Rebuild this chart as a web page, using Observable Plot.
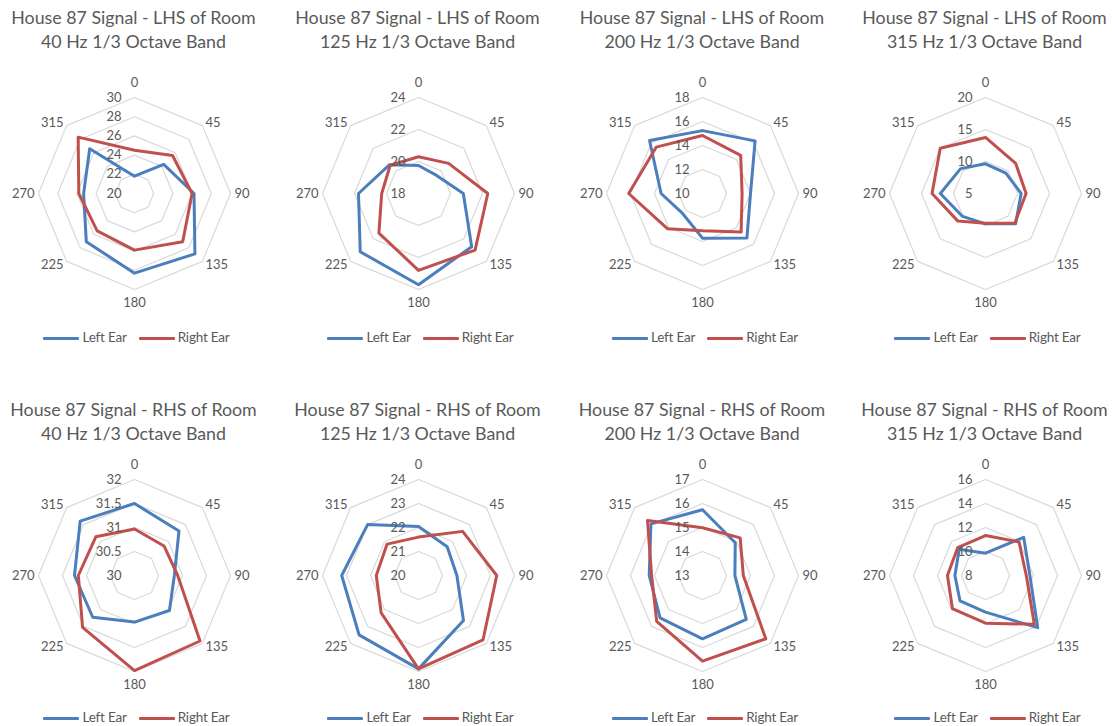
<!DOCTYPE html>
<html>
<head>
<meta charset="utf-8">
<script src="https://cdn.jsdelivr.net/npm/d3@7"></script>
<script src="https://cdn.jsdelivr.net/npm/@observablehq/plot@0.6"></script>
<style>
  html, body { margin: 0; padding: 0; background: #fff; }
  #root { position: relative; width: 1112px; height: 726px; overflow: hidden; font-family: Lato, "Open Sans", sans-serif; color: #595959; }
  .title { position: absolute; width: 300px; text-align: center; font-size: 17.8px; line-height: 24px; white-space: nowrap; }
  .plot { position: absolute; }
  .legend { position: absolute; width: 300px; text-align: center; font-size: 13.5px; line-height: 14px; white-space: nowrap; letter-spacing: -0.2px; }
  .legend .sw { display: inline-block; width: 36px; height: 3px; vertical-align: middle; margin-right: 3px; border-radius: 1px; }
  .legend .item { display: inline-block; margin: 0 6px; }
</style>
</head>
<body>
<div id="root"></div>
<script>
// Angles (degrees) around each radar
const angles = [0, 45, 90, 135, 180, 225, 270, 315];

// Titles
const sides = ["LHS", "RHS"];
const bands = ["40 Hz", "125 Hz", "200 Hz", "315 Hz"];

// Radial tick labels per panel
const lhs40Ticks = [20, 22, 24, 26, 28, 30];
const lhs125Ticks = [18, 20, 22, 24];
const lhs200Ticks = [10, 12, 14, 16, 18];
const lhs315Ticks = [5, 10, 15, 20];
const rhs40Ticks = [30, 30.5, 31, 31.5, 32];
const rhs125Ticks = [20, 21, 22, 23, 24];
const rhs200Ticks = [13, 14, 15, 16, 17];
const rhs315Ticks = [8, 10, 12, 14, 16];

// Series values (in the order of `angles`)
const lhs40Left = [21.8, 24.3, 26.2, 28.9, 28.3, 27.1, 25.3, 26.6];
const lhs40Right = [24.5, 25.6, 26.0, 27.1, 25.9, 25.5, 25.8, 28.3];
const lhs125Left = [19.75, 19.6, 20.8, 22.7, 23.7, 23.15, 21.75, 20.55];
const lhs125Right = [20.3, 20.66, 22.33, 23.0, 22.8, 21.5, 20.3, 20.5];
const lhs200Left = [15.24, 16.2, 14.0, 15.24, 13.72, 12.35, 13.45, 16.24];
const lhs200Right = [14.83, 14.5, 13.3, 14.55, 13.1, 14.14, 16.15, 15.46];
const lhs315Left = [9.64, 9.5, 10.57, 11.66, 9.74, 10.07, 12.06, 10.5];
const lhs315Right = [13.76, 11.66, 11.34, 11.5, 9.64, 11.1, 13.35, 15.0];
const rhs40Left = [31.5, 31.31, 30.83, 31.03, 30.97, 31.23, 31.25, 31.6];
const rhs40Right = [30.97, 30.87, 30.9, 31.93, 31.98, 31.53, 31.17, 31.14];
const rhs125Left = [22.04, 21.69, 21.6, 22.65, 23.89, 23.5, 23.2, 23.0];
const rhs125Right = [21.6, 22.6, 23.26, 23.8, 23.89, 22.2, 21.76, 21.85];
const rhs200Left = [15.74, 14.93, 14.35, 15.58, 15.64, 15.5, 15.22, 16.04];
const rhs200Right = [14.99, 15.22, 14.7, 16.73, 16.57, 15.7, 15.12, 16.24];
const rhs315Left = [9.86, 12.5, 11.7, 14.15, 11.05, 11.0, 10.55, 11.1];
const rhs315Right = [11.33, 11.95, 11.4, 13.75, 11.97, 11.9, 11.17, 11.28];

const seriesNames = ["Left Ear", "Right Ear"];
const seriesColors = ["#4a7ebd", "#c0504d"];

const panels = [
  {row: 0, col: 0, ticks: lhs40Ticks, left: lhs40Left, right: lhs40Right},
  {row: 0, col: 1, ticks: lhs125Ticks, left: lhs125Left, right: lhs125Right},
  {row: 0, col: 2, ticks: lhs200Ticks, left: lhs200Left, right: lhs200Right},
  {row: 0, col: 3, ticks: lhs315Ticks, left: lhs315Left, right: lhs315Right},
  {row: 1, col: 0, ticks: rhs40Ticks, left: rhs40Left, right: rhs40Right},
  {row: 1, col: 1, ticks: rhs125Ticks, left: rhs125Left, right: rhs125Right},
  {row: 1, col: 2, ticks: rhs200Ticks, left: rhs200Left, right: rhs200Right},
  {row: 1, col: 3, ticks: rhs315Ticks, left: rhs315Left, right: rhs315Right}
];

// Layout
const colCenters = [133.5, 417.5, 702, 984.5];
const rowCenterY = [193, 575];
const rowTitleTop = [5, 397];
const rowLegendY = [337, 717];
const R = 96;
const W = 300, H = 260;

const root = document.getElementById("root");
const rad = (a) => a * Math.PI / 180;

function radarPoint(angle, r) {
  return {x: r * Math.sin(rad(angle)), y: r * Math.cos(rad(angle))};
}

panels.forEach((p) => {
  const cx = colCenters[p.col];
  const cy = rowCenterY[p.row];
  const lo = p.ticks[0], hi = p.ticks[p.ticks.length - 1];
  const norm = (v) => (v - lo) / (hi - lo);

  // Grid octagons
  const grid = [];
  p.ticks.slice(1).forEach((t) => {
    [...angles, angles[0]].forEach((a) => grid.push({t, ...radarPoint(a, norm(t))}));
  });

  // Series lines (closed)
  const lines = [];
  [p.left, p.right].forEach((vals, si) => {
    [...angles.keys(), 0].forEach((i) => lines.push({series: seriesNames[si], ...radarPoint(angles[i], norm(vals[i]))}));
  });

  const tickLabels = p.ticks.map((t) => ({label: String(t), x: 0, y: norm(t)}));
  const angLabels = angles.map((a) => ({a, label: String(a), ...radarPoint(a, 1)}));

  const svgLeft = cx - W / 2;
  const svgTop = cy - H / 2;

  const chart = Plot.plot({
    width: W,
    height: H,
    margin: 0,
    x: {domain: [-1, 1], range: [W / 2 - R, W / 2 + R], axis: null},
    y: {domain: [-1, 1], range: [H / 2 + R, H / 2 - R], axis: null},
    color: {domain: seriesNames, range: seriesColors},
    style: {fontFamily: "Lato, 'Open Sans', sans-serif", fontSize: "13px", color: "#595959", background: "transparent", overflow: "visible"},
    marks: [
      Plot.line(grid, {x: "x", y: "y", z: "t", stroke: "#d9d9d9", strokeWidth: 1.2}),
      Plot.line(lines, {x: "x", y: "y", z: "series", stroke: "series", strokeWidth: 3, strokeLinejoin: "round", strokeLinecap: "round"}),
      Plot.text(tickLabels, {x: "x", y: "y", text: "label", textAnchor: "end", dx: -13, fill: "#595959"}),
      Plot.text(angLabels.filter((d) => d.a === 0), {x: "x", y: "y", text: "label", dy: -15, fill: "#595959"}),
      Plot.text(angLabels.filter((d) => d.a === 180), {x: "x", y: "y", text: "label", dy: 13, fill: "#595959"}),
      Plot.text(angLabels.filter((d) => d.a === 90), {x: "x", y: "y", text: "label", textAnchor: "start", dx: 4, fill: "#595959"}),
      Plot.text(angLabels.filter((d) => d.a === 270), {x: "x", y: "y", text: "label", textAnchor: "end", dx: -4, fill: "#595959"}),
      Plot.text(angLabels.filter((d) => d.a === 45), {x: "x", y: "y", text: "label", textAnchor: "start", dx: 3, dy: -3, fill: "#595959"}),
      Plot.text(angLabels.filter((d) => d.a === 135), {x: "x", y: "y", text: "label", textAnchor: "start", dx: 3, dy: 3, fill: "#595959"}),
      Plot.text(angLabels.filter((d) => d.a === 225), {x: "x", y: "y", text: "label", textAnchor: "end", dx: -3, dy: 3, fill: "#595959"}),
      Plot.text(angLabels.filter((d) => d.a === 315), {x: "x", y: "y", text: "label", textAnchor: "end", dx: -3, dy: -3, fill: "#595959"})
    ]
  });
  chart.classList.add("plot");
  chart.style.left = svgLeft + "px";
  chart.style.top = svgTop + "px";
  root.appendChild(chart);

  const title = document.createElement("div");
  title.className = "title";
  title.style.left = (cx - W / 2) + "px";
  title.style.top = rowTitleTop[p.row] + "px";
  title.innerHTML = `House 87 Signal - ${sides[p.row]} of Room<br>${bands[p.col]} 1/3 Octave Band`;
  root.appendChild(title);

  const legend = document.createElement("div");
  legend.className = "legend";
  legend.style.left = (cx + 3 - W / 2) + "px";
  legend.style.top = (rowLegendY[p.row] - 7) + "px";
  legend.innerHTML = seriesNames.map((n, i) =>
    `<span class="item"><span class="sw" style="background:${seriesColors[i]}"></span>${n}</span>`).join("");
  root.appendChild(legend);
});
</script>
</body>
</html>
